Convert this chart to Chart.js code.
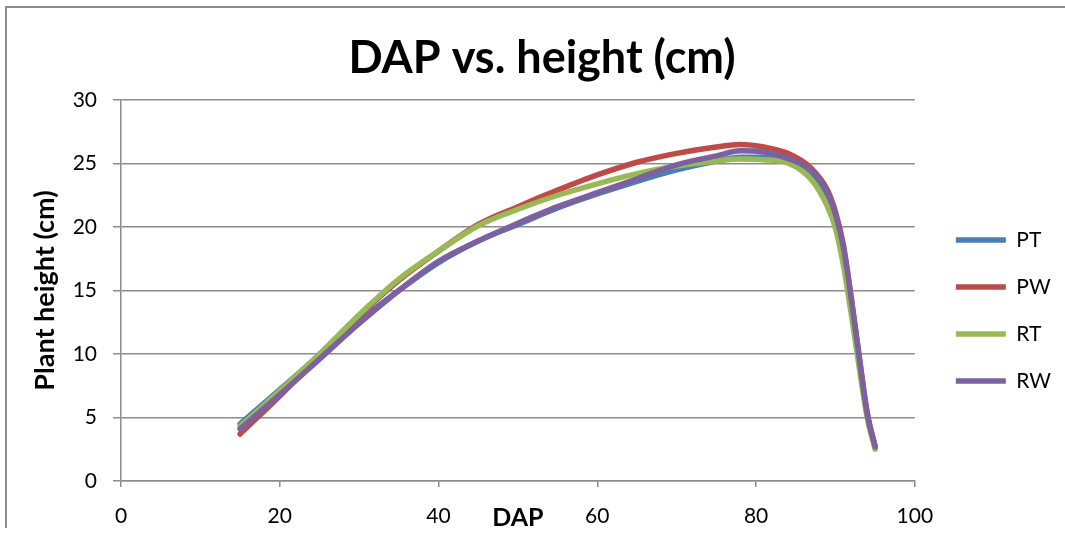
<!DOCTYPE html>
<html>
<head>
<meta charset="utf-8">
<script src="https://cdn.jsdelivr.net/npm/chart.js@4.4.1/dist/chart.umd.min.js"></script>
<style>
  html, body { margin: 0; padding: 0; background: #fff; overflow: hidden; }
  #frame {
    position: absolute; left: 5px; top: 6px;
    border-left: 2px solid #8c8c8c; border-top: 2px solid #8c8c8c;
    width: 1090px; height: 520px;
  }
  canvas { display: block; }
</style>
</head>
<body>
<div id="frame"><canvas id="chart" width="1090" height="520"></canvas></div>
<script>
// days after planting (x) and plant height in cm for each treatment
const dap = [15, 20, 25, 30, 35, 40, 45, 50, 55, 60, 65, 70, 75, 78, 81, 84, 87, 89, 90, 91, 92, 93, 94, 95];
const PT = [4.5, 7.2, 9.9, 12.6, 15.0, 17.2, 18.9, 20.2, 21.5, 22.6, 23.6, 24.5, 25.2, 25.5, 25.5, 25.1, 24.0, 22.1, 20.5, 17.9, 13.9, 9.4, 5.2, 2.6];
const PW = [3.7, 6.7, 9.8, 13.0, 15.8, 18.1, 20.2, 21.6, 22.9, 24.1, 25.1, 25.8, 26.3, 26.5, 26.3, 25.8, 24.6, 22.9, 21.2, 18.6, 14.4, 9.8, 5.4, 2.7];
const RT = [4.3, 7.1, 10.0, 13.1, 15.9, 18.1, 20.1, 21.4, 22.5, 23.4, 24.2, 24.8, 25.2, 25.35, 25.3, 25.05, 23.7, 21.6, 19.9, 17.0, 13.1, 8.9, 5.0, 2.5];
const RW = [4.1, 6.8, 9.6, 12.4, 15.0, 17.3, 18.9, 20.3, 21.6, 22.7, 23.8, 24.9, 25.6, 26.0, 25.9, 25.4, 24.4, 22.7, 21.0, 18.4, 14.3, 9.7, 5.3, 2.7];

const xTicks = [0, 20, 40, 60, 80, 100];
const yTicks = [0, 5, 10, 15, 20, 25, 30];

const gridGray = '#8c8c8c';
const fontFamily = 'Lato, "Open Sans", sans-serif';

function toPoints(values) {
  return values.map((v, i) => ({ x: dap[i], y: v }));
}

function series(label, values, color, order) {
  return {
    label: label,
    data: toPoints(values),
    borderColor: color,
    backgroundColor: color,
    borderWidth: 5.5,
    borderCapStyle: 'round',
    borderJoinStyle: 'round',
    pointRadius: 0,
    pointHoverRadius: 0,
    cubicInterpolationMode: 'monotone',
    fill: false,
    order: order,
    yAxisID: 'y'
  };
}

new Chart(document.getElementById('chart'), {
  type: 'line',
  data: {
    datasets: [
      series('PT', PT, '#4a7ebb', 4),
      series('PW', PW, '#be4b48', 3),
      series('RT', RT, '#98b954', 2),
      series('RW', RW, '#7d60a0', 1)
    ]
  },
  options: {
    responsive: false,
    animation: false,
    events: [],
    layout: { padding: { left: 16, right: 36, top: 0, bottom: 0 } },
    plugins: {
      title: {
        display: true,
        text: 'DAP vs. height (cm)',
        color: '#000',
        font: { family: fontFamily, size: 45, weight: 'bold' },
        padding: { top: 23, bottom: 15 }
      },
      legend: {
        position: 'right',
        // empty title only pushes the entries down
        title: { display: true, text: '', font: { size: 10, lineHeight: 1 }, padding: { top: 75, bottom: 0 } },
        labels: {
          color: '#000',
          font: { family: fontFamily, size: 21 },
          usePointStyle: true,
          pointStyle: 'line',
          pointStyleWidth: 50,
          padding: 26,
          sort: (a, b) => a.datasetIndex - b.datasetIndex
        }
      },
      tooltip: { enabled: false }
    },
    scales: {
      x: {
        type: 'linear',
        min: 0,
        max: 100,
        afterBuildTicks: s => { s.ticks = xTicks.map(v => ({ value: v })); },
        afterFit: s => { s.height = 47; },
        grid: { drawOnChartArea: false, drawTicks: true, tickLength: 6, color: gridGray, lineWidth: 1.5 },
        border: { color: gridGray, width: 1.5 },
        ticks: { color: '#000', font: { family: fontFamily, size: 21 }, padding: 17, maxRotation: 0 },
        title: {
          display: true,
          text: 'DAP',
          color: '#000',
          font: { family: fontFamily, size: 25, weight: 'bold', lineHeight: 1 },
          padding: { top: 0, bottom: -2 }
        }
      },
      y: {
        type: 'linear',
        position: 'left',
        min: 0,
        max: 30,
        afterBuildTicks: s => { s.ticks = yTicks.map(v => ({ value: v })); },
        afterFit: s => { s.width = 98; },
        grid: { color: gridGray, lineWidth: 1.5, tickLength: 8 },
        border: { color: gridGray, width: 1.5 },
        ticks: { color: '#000', font: { family: fontFamily, size: 21 }, padding: 16 },
        title: {
          display: true,
          text: 'Plant height (cm)',
          color: '#000',
          font: { family: fontFamily, size: 27, weight: 'bold' },
          padding: { top: 6, bottom: 0 }
        }
      },
      // empty spacer between the plot and the legend
      gap: {
        type: 'linear',
        position: 'right',
        display: true,
        grid: { display: false },
        border: { display: false },
        ticks: { display: false },
        afterFit: s => { s.width = 15; }
      }
    }
  }
});
</script>
</body>
</html>
